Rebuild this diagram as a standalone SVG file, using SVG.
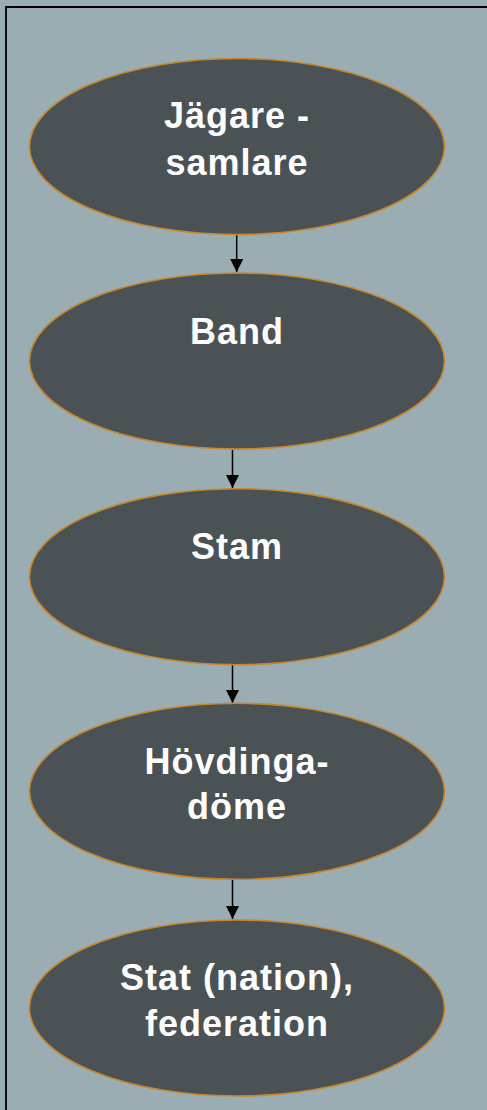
<svg xmlns="http://www.w3.org/2000/svg" width="487" height="1110" viewBox="0 0 487 1110">
<defs>
<style>
.node ellipse{fill:#4A5256;stroke:#C8862A;stroke-width:1.6}
.node text{fill:#FFFFFF;font-family:"Liberation Sans",Arial,sans-serif;font-weight:bold;font-size:36px;letter-spacing:1px;text-anchor:middle}
.edge{stroke:#000;stroke-width:1.5;fill:none;marker-end:url(#arr)}
</style>
<marker id="arr" viewBox="0 0 10 10" refX="10" refY="5" markerWidth="13" markerHeight="13" markerUnits="userSpaceOnUse" orient="auto">
<path d="M0,0 L10,5 L0,10 z" fill="#000"/>
</marker>
</defs>
<rect x="0" y="0" width="487" height="1110" fill="#9AADB3"/>
<path d="M6,1110 V7 H487" fill="none" stroke="#000" stroke-width="1.8"/>
<g id="connectors">
<line class="edge" x1="236.7" y1="235" x2="236.7" y2="272"/>
<line class="edge" x1="232.5" y1="450" x2="232.5" y2="488"/>
<line class="edge" x1="232.5" y1="665" x2="232.5" y2="703"/>
<line class="edge" x1="232.5" y1="880" x2="232.5" y2="919"/>
</g>
<g id="n1" class="node">
<ellipse cx="237" cy="146.5" rx="207.5" ry="88"/>
<text x="237" y="128">Jägare -</text>
<text x="237" y="175">samlare</text>
</g>
<g id="n2" class="node">
<ellipse cx="237" cy="361" rx="207.5" ry="88"/>
<text x="237" y="344">Band</text>
</g>
<g id="n3" class="node">
<ellipse cx="237" cy="576.7" rx="207.5" ry="88"/>
<text x="237" y="559">Stam</text>
</g>
<g id="n4" class="node">
<ellipse cx="237" cy="791.3" rx="207.5" ry="88"/>
<text x="237" y="774">Hövdinga-</text>
<text x="237" y="819">döme</text>
</g>
<g id="n5" class="node">
<ellipse cx="237" cy="1008" rx="207.5" ry="88"/>
<text x="237" y="990">Stat (nation),</text>
<text x="237" y="1036">federation</text>
</g>
</svg>
